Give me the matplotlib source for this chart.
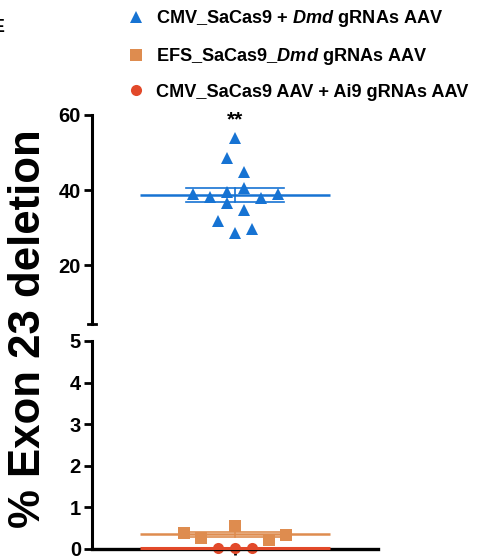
import numpy as np
import matplotlib
matplotlib.use("Agg")
import matplotlib.pyplot as plt

plt.rcParams['font.family'] = ['Liberation Sans', 'DejaVu Sans']
plt.rcParams['font.weight'] = 'bold'
plt.rcParams['mathtext.fontset'] = 'custom'
plt.rcParams['mathtext.it'] = 'Liberation Sans:italic:bold'
plt.rcParams['mathtext.rm'] = 'Liberation Sans:bold'

# ---------------- data ----------------
group_labels = ["CMV_SaCas9 + $\\mathit{Dmd}$ gRNAs AAV",
                "EFS_SaCas9_$\\mathit{Dmd}$ gRNAs AAV",
                "CMV_SaCas9 AAV + Ai9 gRNAs AAV"]
cmv_dmd = [53.8, 48.5, 44.9, 40.7, 39.1, 39.1, 39.5, 38.2, 37.8, 36.5, 34.7, 31.8, 28.7, 29.8]
efs_dmd = [0.38, 0.26, 0.56, 0.22, 0.34]
cmv_ai9 = [0.025, 0.03, 0.025]
top_ticks = [20, 40, 60]
bottom_ticks = [0, 1, 2, 3, 4, 5]
significance = "**"

# swarm layout slots (horizontal spread of points, in marker widths)
cmv_dmd_slots = [0, -1, 1, 1, -5, 5, -1, -3, 3, -1, 1, -2, 0, 2]
efs_dmd_slots = [-6, -4, 0, 4, 6]
cmv_ai9_slots = [-2, 0, 2]

blue = '#1673D3'
orange = '#DE8C4F'
red = '#E2492A'

W, H = 478, 560
fig = plt.figure(figsize=(W / 100, H / 100), dpi=100)

left = 92 / W
width = (378 - 92) / W
ax_top = fig.add_axes([left, (H - 324) / H, width, (324 - 115) / H])
ax_bot = fig.add_axes([left, (H - 549) / H, width, (549 - 341) / H])

center = 0.5
slot = 8.5 / 286
mean_half = 0.333
sem_half = 0.17


def draw_group(ax, vals, slots, color, marker, ms, mean_lw=1.8, mean_z=2):
    vals = np.asarray(vals, float)
    xs = center + np.asarray(slots) * slot
    line, = ax.plot(xs, vals, linestyle='none', marker=marker, color=color,
                    markersize=ms, markeredgewidth=0, zorder=3, clip_on=False)
    m = vals.mean()
    sem = vals.std(ddof=1) / np.sqrt(len(vals))
    ax.plot([center - mean_half, center + mean_half], [m, m], color=color,
            lw=mean_lw, zorder=mean_z, solid_capstyle='butt', clip_on=False)
    ax.plot([center, center], [m - sem, m + sem], color=color, lw=1.2, zorder=2,
            clip_on=False)
    for yv in (m - sem, m + sem):
        ax.plot([center - sem_half, center + sem_half], [yv, yv], color=color,
                lw=1.2, zorder=2, clip_on=False)
    return line


h1 = draw_group(ax_top, cmv_dmd, cmv_dmd_slots, blue, '^', 8.5)
h2 = draw_group(ax_bot, efs_dmd, efs_dmd_slots, orange, 's', 8.6)
h3 = draw_group(ax_bot, cmv_ai9, cmv_ai9_slots, red, 'o', 8.0, mean_lw=2.2, mean_z=5)

ax_top.text(center, 58.6, significance, ha='center', va='center',
            fontsize=15, fontweight='bold')

for ax in (ax_top, ax_bot):
    ax.set_xlim(0, 1)
    for s in ('top', 'right'):
        ax.spines[s].set_visible(False)
    ax.spines['left'].set_linewidth(2.2)
    ax.spines['left'].set_zorder(4)
    ax.tick_params(axis='y', width=2, length=5.5, labelsize=14.5, pad=2.5)

ax_top.set_ylim(4.4, 60)
ax_top.set_yticks(top_ticks)
ax_top.spines['bottom'].set_visible(False)
ax_top.set_xticks([])
ax_top.plot([-0.014, 0.014], [0, 0], transform=ax_top.transAxes, color='black',
            lw=2, clip_on=False)

ax_bot.set_ylim(0, 5)
ax_bot.set_yticks(bottom_ticks)
ax_bot.spines['bottom'].set_linewidth(2.4)
ax_bot.spines['bottom'].set_zorder(4)
ax_bot.set_xticks([center])
ax_bot.set_xticklabels([''])
ax_bot.tick_params(axis='x', width=2, length=4)

for ax in (ax_top, ax_bot):
    for lab in ax.get_yticklabels():
        lab.set_fontweight('bold')

fig.text(29 / W, 0.5 * ((H - 127) + (H - 530)) / H, "% Exon 23 deletion",
         rotation=90, ha='center', va='center', fontsize=31.5, fontweight='bold')

# cropped panel letter at left edge (only its right edge is visible, as in the source)
fig.text(-8 / W, (H - 28) / H, "E", fontsize=14, fontweight='bold',
         ha='left', va='center')

leg = fig.legend([h1, h2, h3], group_labels, loc='upper left',
                 bbox_to_anchor=(127 / W, 1 - 8 / H), frameon=False,
                 fontsize=13.1, handlelength=1.0, handletextpad=0.62,
                 labelspacing=0.93, borderaxespad=0, borderpad=0)
for t in leg.get_texts():
    t.set_fontweight('bold')

fig.savefig('out.png', dpi=100)
